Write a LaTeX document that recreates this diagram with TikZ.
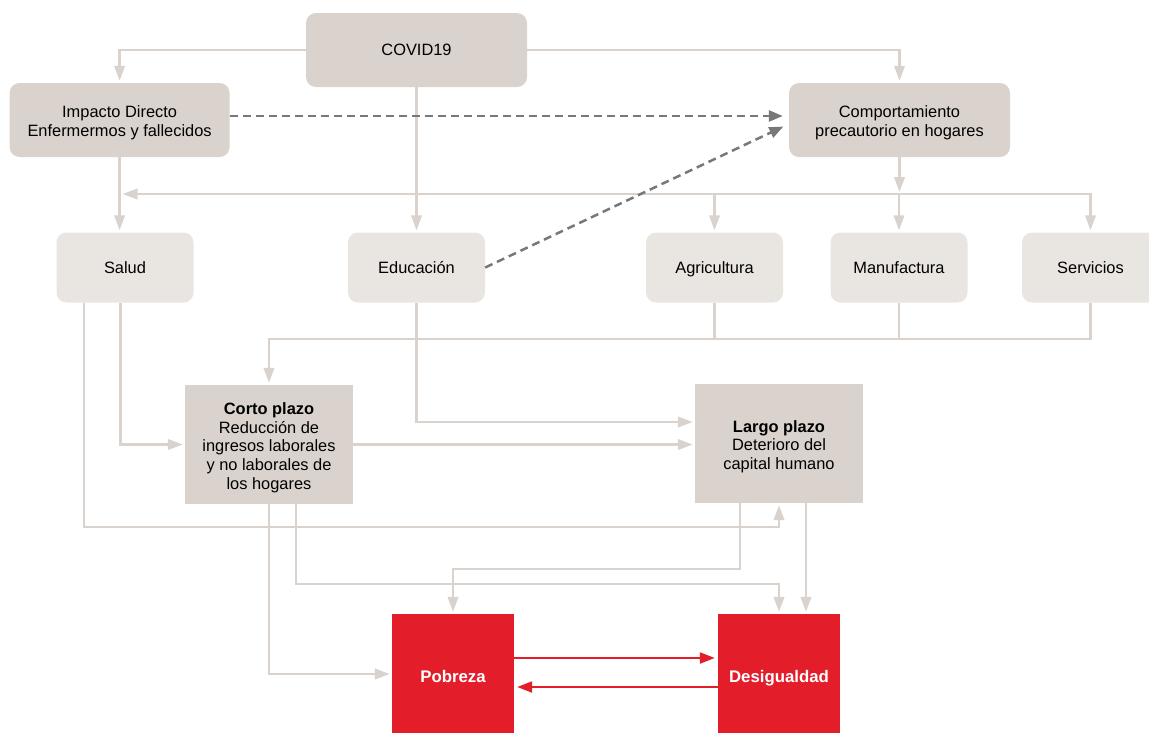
\documentclass[tikz,border=0pt]{standalone}
\usepackage{fontspec}
\setmainfont{Liberation Sans}
\usetikzlibrary{arrows.meta}
\definecolor{boxdark}{RGB}{218,211,205}
\definecolor{boxlight}{RGB}{233,229,225}
\definecolor{linec}{RGB}{218,211,205}
\definecolor{dashc}{RGB}{120,120,120}
\definecolor{redc}{RGB}{227,30,42}
\newcommand{\toppad}{\rule{0pt}{18pt}}
\begin{document}
\begin{tikzpicture}[x=1pt,y=-1pt,
  base/.style={inner sep=0pt, align=center, font=\fontsize{16.4}{18.8}\selectfont, text=black},
  topbox/.style={base, fill=boxdark, rounded corners=10pt, minimum width=221pt, minimum height=74pt},
  sectbox/.style={base, fill=boxlight, rounded corners=10pt, minimum width=137pt, minimum height=70pt, text height=12pt, text depth=0pt},
  termbox/.style={base, fill=boxdark, minimum width=168pt, minimum height=119pt},
  outbox/.style={base, fill=redc, text=white, minimum width=122pt, minimum height=120pt, text height=16pt, text depth=0pt, font=\fontsize{16.8}{19}\selectfont\bfseries},
  conn/.style={draw=linec, line width=2.4pt},
  arr/.style={conn, -{Triangle[length=15pt,width=10.5pt]}, shorten >=2pt},
  dasharr/.style={draw=dashc, line width=2.5pt, dash pattern=on 8pt off 5pt, -{Triangle[length=14pt,width=11pt]}, shorten >=6pt},
  redarr/.style={draw=redc, line width=2.2pt, -{Triangle[length=15pt,width=11pt]}, shorten >=3pt}
]
\useasboundingbox (0,0) rectangle (1149,732);

\node[topbox] (covid) at (416.5,50) {COVID19};
\node[topbox, minimum width=220pt] (impacto) at (119.6,120) {\toppad Impacto Directo\\Enfermermos y fallecidos};
\node[topbox] (comport) at (899.5,120) {\toppad Comportamiento\\precautorio en hogares};
\node[sectbox] (salud) at (125,267.5) {Salud};
\node[sectbox] (educ) at (416.5,267.5) {Educación};
\node[sectbox] (agri) at (714.5,267.5) {Agricultura};
\node[sectbox] (manu) at (899,267.5) {Manufactura};
\node[sectbox] (serv) at (1090.5,267.5) {Servicios};
\node[termbox] (corto) at (269,444.5) {\toppad\textbf{Corto plazo}\\Reducción de\\ingresos laborales\\y no laborales de\\los hogares};
\node[termbox] (largo) at (779,443.5) {\toppad\textbf{Largo plazo}\\Deterioro del\\capital humano};
\node[outbox] (pobreza) at (453,674) {Pobreza};
\node[outbox] (desig) at (779,674) {Desigualdad};

\coordinate (bus) at (899,194);
\coordinate (bus2) at (0,339);
\coordinate (b3) at (0,527);
\coordinate (b4) at (0,584);
\coordinate (b5) at (0,569);

% top level
\draw[arr] (covid.west) -| (impacto.north);
\draw[arr] (covid.east) -| (comport.north);
\draw[arr] (covid.south) -- (educ.north);
\draw[arr] (impacto.south) -- (impacto.south |- salud.north);

% behaviour bus
\draw[arr] (comport.south) -- (comport.south |- bus);
\draw[conn, {Triangle[length=15pt,width=10.5pt]}-{Triangle[length=15pt,width=10.5pt]}, shorten <=3pt, shorten >=2pt] (impacto.south |- bus) -| (serv.north);
\draw[arr] (agri.north |- bus) -- (agri.north);
\draw[arr] (manu.north |- bus) -- (manu.north);

% sectors to corto plazo
\draw[conn] (agri.south) -- (agri.south |- bus2);
\draw[conn] (manu.south) -- (manu.south |- bus2);
\draw[arr] (serv.south) |- (corto.north |- bus2) -- (corto.north);

% salud and educacion
\draw[arr] ([xshift=-4.5pt]salud.south) |- (corto.west);
\draw[arr] ([xshift=-41pt]salud.south) |- (largo.south |- b3) -- (largo.south);
\draw[arr] (educ.south) |- ([yshift=21.5pt]largo.west);
\draw[arr] (corto.east) -- (corto.east -| largo.west);

% to outcomes
\draw[arr] (corto.south) |- (pobreza.west);
\draw[arr] ([xshift=27pt]corto.south) |- (desig.north |- b4) -- (desig.north);
\draw[arr] ([xshift=-39pt]largo.south) |- (pobreza.north |- b5) -- (pobreza.north);
\draw[arr] ([xshift=27pt]largo.south) -- ([xshift=27pt]desig.north);

% red
\draw[redarr] ([yshift=16pt]pobreza.east) -- ([yshift=16pt]desig.west);
\draw[redarr] ([yshift=-13pt]desig.west) -- ([yshift=-13pt]pobreza.east);

% dashed
\draw[dasharr] ([yshift=4pt]impacto.east) -- ([yshift=4pt]comport.west);
\draw[dasharr] (educ.east) -- ([yshift=-4pt]comport.west);
\end{tikzpicture}
\end{document}
